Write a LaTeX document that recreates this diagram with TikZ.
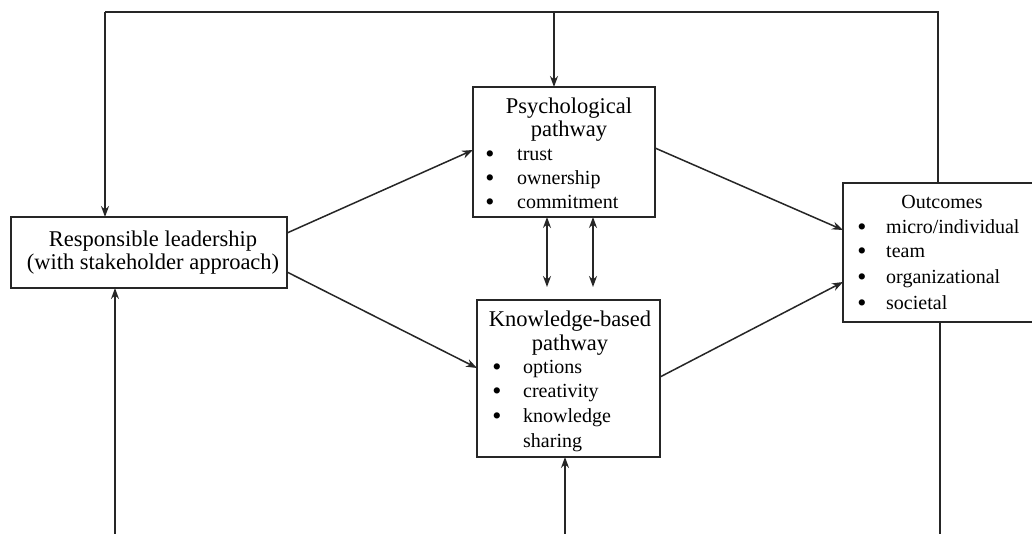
\documentclass[tikz,border=0pt]{standalone}
\usepackage{fontspec}
\setmainfont{Liberation Serif}
\usetikzlibrary{arrows.meta}
\begin{document}
\begin{tikzpicture}[x=1pt,y=-1pt,
  box/.style={draw=black!85,line width=1.5pt,fill=white,inner sep=0pt,outer sep=0pt},
  txt/.style={inner sep=0pt,font=\fontsize{20}{22}\selectfont,text=black},
  ttl/.style={inner sep=0pt,font=\fontsize{22.5}{25}\selectfont,text=black},
  itm/.style={txt,anchor=base west},
  bul/.style={inner sep=0pt,font=\fontsize{26}{26}\selectfont,text=black,anchor=base},
  conn/.style={draw=black!85,line width=1.5pt},
  arr/.style={conn,-{Stealth[length=11pt,width=8pt]}},
  darr/.style={conn,{Stealth[length=11pt,width=8pt]}-{Stealth[length=11pt,width=8pt]}}]
\clip (0,0) rectangle (1032,533);
\fill[white] (0,0) rectangle (1032,533);
% boxes
\node[box,minimum width=276pt,minimum height=71pt] (lead) at (149,252.5) {};
\node[box,minimum width=182pt,minimum height=130pt] (psych) at (564,152) {};
\node[box,minimum width=183pt,minimum height=157pt] (know) at (568.5,378.5) {};
\node[box,minimum width=210pt,minimum height=139pt] (out) at (948,252.5) {};
% leadership text
\node[ttl,anchor=base] (l1) at (153,246) {Responsible leadership};
\node[ttl,anchor=base] (l2) at (153,269) {(with stakeholder approach)};
% psych text
\node[ttl,anchor=base] (p1) at (569,113) {Psychological};
\node[ttl,anchor=base] (p2) at (569,136) {pathway};
\node[bul] (pb1) at (490,162) {\textbullet};
\node[itm] (pi1) at (517,160) {trust};
\node[bul] (pb2) at (490,186) {\textbullet};
\node[itm] (pi2) at (517,184) {ownership};
\node[bul] (pb3) at (490,210) {\textbullet};
\node[itm] (pi3) at (517,208) {commitment};
% knowledge text
\node[ttl,anchor=base] (k1) at (570,326) {Knowledge-based};
\node[ttl,anchor=base] (k2) at (570,350) {pathway};
\node[bul] (kb1) at (497,375) {\textbullet};
\node[itm] (ki1) at (523,373) {options};
\node[bul] (kb2) at (497,399) {\textbullet};
\node[itm] (ki2) at (523,397) {creativity};
\node[bul] (kb3) at (497,424) {\textbullet};
\node[itm] (ki3) at (523,422) {knowledge};
\node[itm] (ki4) at (523,447) {sharing};
% outcomes text
\node[txt,anchor=base] (o1) at (942,208) {Outcomes};
\node[bul] (ob1) at (862,235) {\textbullet};
\node[itm] (oi1) at (886,233) {micro/individual};
\node[bul] (ob2) at (862,259) {\textbullet};
\node[itm] (oi2) at (886,257) {team};
\node[bul] (ob3) at (862,285) {\textbullet};
\node[itm] (oi3) at (886,283) {organizational};
\node[bul] (ob4) at (862,311) {\textbullet};
\node[itm] (oi4) at (886,309) {societal};
% frame coordinates
\coordinate (tl) at (105,12);
\coordinate (tm) at (554,12);
\coordinate (tr) at (938,12);
\coordinate (bl) at (115,540);
\coordinate (bm) at (565,540);
\coordinate (br) at (940,540);
% top feedback
\draw[conn] (tr |- out.north) -- (tr) -- (tl);
\draw[arr] (tl) -- (tl |- lead.north);
\draw[arr] (tm) -- (tm |- psych.north);
% bottom feedback
\draw[arr] (bl) -- (bl |- lead.south);
\draw[arr] (bm) -- (bm |- know.south);
\draw[conn] (br |- out.south) -- (br);
% main arrows
\draw[arr] (lead.east |- 0,233) -- (psych.west |- 0,150);
\draw[arr] (lead.east |- 0,272) -- (know.west |- 0,368);
\draw[arr] (psych.east |- 0,148) -- (out.west |- 0,230);
\draw[arr] (know.east |- 0,377) -- (out.west |- 0,282);
% double arrows
\draw[darr,shorten >=13pt] (psych.south -| 547,0) -- (know.north -| 547,0);
\draw[darr,shorten >=13pt] (psych.south -| 593,0) -- (know.north -| 593,0);
\end{tikzpicture}
\end{document}
